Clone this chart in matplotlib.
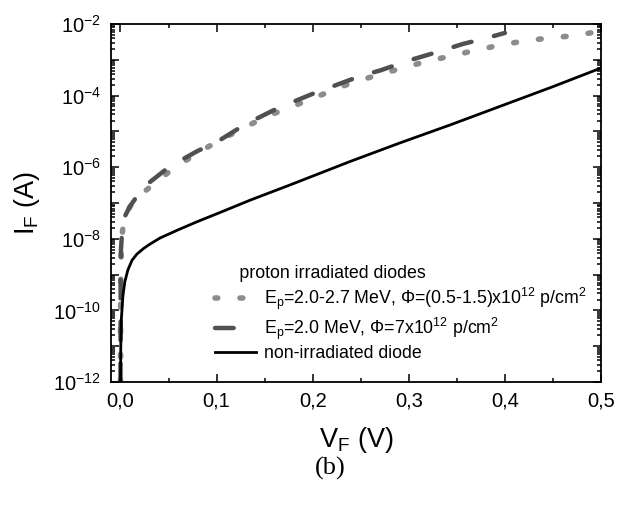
import matplotlib
matplotlib.use('Agg')
import matplotlib.pyplot as plt
import matplotlib.ticker as ticker
import numpy as np

plt.rcParams['font.family'] = ['Liberation Sans', 'DejaVu Sans']
plt.rcParams['mathtext.fontset'] = 'custom'
plt.rcParams['mathtext.rm'] = 'Liberation Sans'
plt.rcParams['mathtext.it'] = 'Liberation Sans:italic'
plt.rcParams['mathtext.default'] = 'regular'

# non-irradiated diode (log10 of current)
v_ref = [0.0, 0.0003, 0.001, 0.0025, 0.0045, 0.0077, 0.012, 0.017, 0.0236, 0.03, 0.041, 0.06,
         0.08, 0.105, 0.135, 0.176, 0.239, 0.291, 0.343, 0.395, 0.45, 0.5]
logi_ref = [-12.0, -11.0, -10.2, -9.6, -9.2, -8.87, -8.6, -8.43, -8.28, -8.16, -7.98, -7.75,
            -7.52, -7.25, -6.92, -6.5, -5.84, -5.32, -4.82, -4.3, -3.75, -3.23]

# Ep=2.0 MeV, 7e12 p/cm2
v_hi = [0.0, 0.0002, 0.0005, 0.002, 0.005, 0.0097, 0.02, 0.029, 0.046, 0.06, 0.08, 0.1, 0.13,
        0.16, 0.18, 0.2, 0.225, 0.25, 0.27, 0.3, 0.33, 0.356, 0.38, 0.4]
logi_hi = [-12.0, -9.0, -8.3, -7.65, -7.35, -7.1, -6.7, -6.45, -6.09, -5.85, -5.55, -5.3, -4.8,
           -4.4, -4.17, -3.95, -3.7, -3.45, -3.3, -3.02, -2.78, -2.56, -2.4, -2.25]

# Ep=2.0-2.7 MeV, (0.5-1.5)e12 p/cm2
v_lo = [0.0, 0.0002, 0.001, 0.003, 0.006, 0.01, 0.025, 0.051, 0.08, 0.1, 0.128, 0.155, 0.183,
        0.209, 0.235, 0.262, 0.288, 0.315, 0.341, 0.367, 0.393, 0.421, 0.45, 0.471, 0.5]
logi_lo = [-12.0, -9.2, -8.03, -7.6, -7.3, -7.1, -6.68, -6.12, -5.6, -5.3, -4.9, -4.55, -4.26,
           -3.98, -3.7, -3.47, -3.27, -3.07, -2.91, -2.75, -2.6, -2.47, -2.38, -2.33, -2.2]

fig = plt.figure(figsize=(6.3, 5.05), dpi=100)
ax = fig.add_axes([0.176, 0.2436, 0.778, 0.7089])

ax.plot(v_lo, 10.0 ** np.array(logi_lo), color='#8c8c8c', lw=4.0, dashes=(0.5, 4.0),
        dash_capstyle='round', label=r'E$_p$=2.0-2.7 MeV, $\Phi$=(0.5-1.5)x10$^{12}$ p/cm$^2$')
ax.plot(v_hi, 10.0 ** np.array(logi_hi), color='#505050', lw=3.2, dashes=(4.2, 5.2),
        dash_capstyle='round', label=r'E$_p$=2.0 MeV, $\Phi$=7x10$^{12}$ p/cm$^2$')
ax.plot(v_ref, 10.0 ** np.array(logi_ref), color='black', lw=2.0, label='non-irradiated diode')

ax.set_yscale('log')
ax.set_xlim(-0.01, 0.5)
ax.set_ylim(1e-12, 1e-2)

ax.yaxis.set_major_locator(ticker.FixedLocator(10.0 ** np.arange(-12, -1)))
ax.yaxis.set_major_formatter(ticker.FuncFormatter(
    lambda y, p: r'10$^{%d}$' % round(np.log10(y)) if round(np.log10(y)) % 2 == 0 else ''))
ax.yaxis.set_minor_locator(ticker.LogLocator(base=10, subs=np.arange(2, 10), numticks=30))
ax.yaxis.set_minor_formatter(ticker.NullFormatter())

ax.xaxis.set_major_locator(ticker.MultipleLocator(0.1))
ax.xaxis.set_minor_locator(ticker.MultipleLocator(0.05))
ax.xaxis.set_major_formatter(ticker.FuncFormatter(lambda x, p: ('%.1f' % x).replace('.', ',')))

ax.tick_params(which='both', direction='in', top=True, right=True, labelsize=14.5, width=1.1)
ax.tick_params(which='major', length=6, pad=7)
ax.tick_params(which='minor', length=3)
for s in ax.spines.values():
    s.set_linewidth(1.3)

ax.set_xlabel(r'V$_F$ (V)', fontsize=19.5, labelpad=10)
ax.set_ylabel(r'I$_F$ (A)', fontsize=19.5, labelpad=8)

leg = ax.legend(loc='lower left', bbox_to_anchor=(0.194, 0.03), frameon=False, fontsize=12.8,
                title='     proton irradiated diodes', title_fontsize=12.8, alignment='left',
                handlelength=2.3, handletextpad=0.45, borderpad=0, labelspacing=0.2)

fig.text(0.524, 0.072, '(b)', fontsize=19, family='Liberation Serif', ha='center', va='center')

fig.savefig('out.png', dpi=100, facecolor='white')
